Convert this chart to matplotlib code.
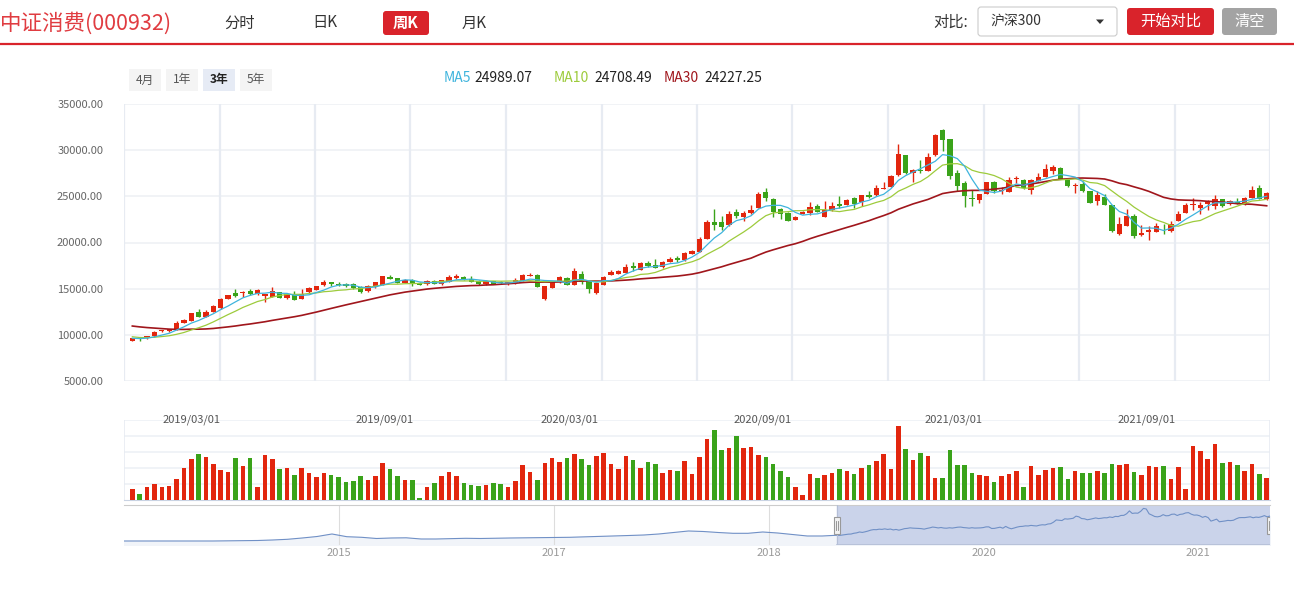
import numpy as np
import matplotlib
matplotlib.use('Agg')
import matplotlib.pyplot as plt
from matplotlib.patches import FancyBboxPatch, Rectangle, Polygon, Ellipse

plt.rcParams['font.family'] = ['Noto Sans CJK SC', 'DejaVu Sans']

# ---- weekly K-line data ----
opens = [9360, 9690, 9620, 9830, 10370, 10420, 10550, 11310, 11530, 12460,
         11960, 12500, 12860, 13910, 14520, 14480, 14740, 14380, 14230, 14130,
         14590, 13940, 14410, 13870, 14590, 14880, 15380, 15680, 15530, 15490,
         15490, 15170, 14700, 15210, 15390, 16250, 16140, 15640, 15930, 15640,
         15500, 15820, 15500, 15750, 16140, 16250, 16070, 15860, 15460, 15820,
         15680, 15460, 15570, 15860, 16400, 16500, 13870, 15100, 15680, 16140,
         15420, 16580, 15820, 14480, 15420, 16500, 16610, 16720, 17440, 17040,
         17730, 17550, 17330, 17880, 18340, 18060, 18780, 18990, 20400, 22200,
         22240, 21880, 23280, 22780, 23180, 23790, 25520, 24660, 23680, 23210,
         22460, 23100, 23210, 23940, 22780, 23500, 24150, 24080, 24800, 24400,
         25120, 25120, 25810, 26020, 27290, 29450, 27580, 27900, 27760, 29450,
         32230, 31180, 27580, 26420, 24870, 24580, 25300, 26600, 25590, 25480,
         26890, 26750, 25660, 26680, 27110, 27760, 28080, 26750, 26130, 26320,
         25560, 24510, 24940, 24040, 20900, 21810, 22820, 20800, 21190, 21160,
         21700, 21230, 22350, 23210, 24040, 23750, 24220, 23970, 24660, 24150,
         24400, 24220, 24870, 25950, 24660]
closes = [9650, 9520, 9870, 10300, 10520, 10630, 11270, 11600, 12320, 11960,
          12460, 13080, 13840, 14270, 14200, 14630, 14450, 14880, 14410, 14740,
          14020, 14410, 13800, 14380, 15060, 15280, 15710, 15460, 15380, 15240,
          15060, 14660, 15240, 15710, 16360, 16070, 15640, 15990, 15530, 15420,
          15780, 15530, 15890, 16250, 16360, 15930, 15750, 15460, 15820, 15530,
          15570, 15680, 15930, 16500, 16500, 15210, 15280, 15780, 16250, 15420,
          16900, 15680, 14950, 15570, 16290, 16790, 16940, 17330, 17260, 17730,
          17440, 17260, 17880, 18240, 18090, 18850, 19100, 20360, 22200, 21910,
          21700, 23140, 22890, 23180, 23570, 25300, 24770, 23320, 23140, 22350,
          22740, 23250, 23830, 23320, 23570, 24000, 23930, 24620, 24220, 25120,
          24940, 25880, 25950, 27250, 29630, 27540, 27830, 27720, 29240, 31650,
          31150, 27220, 26170, 25010, 24730, 25230, 26530, 25590, 25740, 26820,
          27000, 25850, 26750, 27040, 27940, 28190, 26930, 26130, 26240, 25590,
          24330, 25120, 24110, 21230, 21990, 22850, 20690, 21010, 21340, 21810,
          21630, 21950, 23140, 24040, 24150, 24110, 24440, 24760, 23970, 24510,
          24290, 24870, 25740, 24730, 25410]
highs = [9700, 9720, 9900, 10450, 10560, 10680, 11490, 11680, 12360, 12790,
         12650, 13190, 13980, 14310, 14950, 14770, 14990, 14990, 14450, 15170,
         14660, 14480, 14740, 14990, 15130, 15320, 15960, 15750, 15680, 15600,
         15600, 15240, 15350, 15750, 16400, 16500, 16180, 16070, 16000, 15710,
         15930, 15970, 15930, 16500, 16580, 16360, 16400, 15930, 15890, 15860,
         15860, 15750, 16140, 16540, 16680, 16580, 15320, 15820, 16400, 16250,
         17190, 16870, 15860, 15640, 16360, 17010, 17050, 17660, 17880, 17840,
         17980, 18160, 17950, 18380, 18520, 18960, 19170, 20580, 22420, 23610,
         22890, 23360, 23680, 23460, 24080, 25450, 25880, 24800, 23750, 23250,
         22820, 23430, 24440, 24150, 24470, 24370, 25090, 24690, 24980, 25160,
         25590, 26280, 26600, 27320, 30640, 29520, 28010, 28980, 29740, 31760,
         32340, 31250, 27830, 26640, 25700, 25300, 26600, 26640, 26030, 27110,
         27180, 26860, 26930, 27580, 28480, 28370, 28150, 26790, 26420, 26670,
         25590, 25590, 25300, 24080, 22780, 23680, 23070, 21880, 21840, 22130,
         21990, 22350, 23390, 24260, 24800, 24400, 24580, 25120, 24760, 24580,
         24870, 24940, 26130, 26280, 25450]
lows = [9330, 9360, 9600, 9800, 10340, 10270, 10500, 11270, 11500, 11930,
        11930, 12480, 12830, 13880, 14090, 14090, 14340, 14340, 13580, 14100,
        13990, 13900, 13780, 13830, 14560, 14850, 15340, 15280, 15280, 15170,
        15000, 14520, 14600, 15100, 15350, 16040, 15600, 15600, 15320, 15380,
        15390, 15500, 15420, 15710, 16100, 15890, 15710, 15420, 15420, 15500,
        15460, 15380, 15530, 15820, 16360, 15170, 13760, 15060, 15640, 15380,
        15380, 15460, 14480, 14440, 15380, 16470, 16580, 16690, 16940, 17010,
        17300, 17220, 17260, 17840, 17880, 18020, 18740, 18960, 20360, 21340,
        21340, 21840, 22600, 22310, 23140, 23750, 24510, 22780, 22560, 22310,
        22420, 23070, 22960, 23280, 22740, 23460, 23790, 24040, 23790, 23930,
        24870, 25090, 25770, 25990, 27250, 27460, 26570, 27540, 27720, 29400,
        29920, 26860, 25590, 23860, 23970, 24330, 25230, 25380, 25230, 25440,
        26390, 25770, 25230, 26640, 27070, 27470, 26860, 26030, 25410, 25520,
        24260, 24110, 24080, 21160, 20800, 21770, 20540, 20690, 20260, 21120,
        20870, 21160, 22310, 23180, 23500, 23140, 23570, 23680, 23860, 24040,
        24150, 24110, 24840, 24690, 24620]
# weekly volume, in units of the volume panel grid (5 = top line)
volume = [0.69, 0.36, 0.82, 1.01, 0.82, 0.88, 1.32, 2.02, 2.58, 2.90,
          2.71, 2.27, 1.89, 1.76, 2.65, 2.14, 2.65, 0.82, 2.84, 2.58,
          1.95, 2.02, 1.58, 2.02, 1.70, 1.45, 1.70, 1.58, 1.45, 1.13,
          1.20, 1.51, 1.26, 1.51, 2.33, 1.95, 1.51, 1.26, 1.26, 0.13,
          0.82, 1.07, 1.51, 1.76, 1.51, 1.07, 0.95, 0.88, 0.95, 1.07,
          1.01, 0.82, 1.20, 2.21, 1.76, 1.26, 2.33, 2.65, 2.40, 2.65,
          2.90, 2.58, 2.21, 2.77, 2.96, 2.27, 1.95, 2.77, 2.52, 2.02,
          2.40, 2.27, 1.70, 1.89, 1.83, 2.46, 1.64, 2.71,
          3.84, 4.35, 3.15, 3.28, 3.97, 3.28, 3.34, 2.84, 2.71, 2.27,
          1.83, 1.45, 0.82, 0.32, 1.64, 1.39, 1.58, 1.70, 1.95, 1.83,
          1.64, 2.02, 2.21, 2.46, 2.90, 1.95, 4.60, 3.21, 2.52, 2.96,
          2.77, 1.39, 1.39, 3.15, 2.21, 2.21, 1.70, 1.58, 1.51, 1.13,
          1.51, 1.64, 1.83, 0.82, 2.14, 1.58, 1.89, 2.02, 2.08, 1.32,
          1.83, 1.70, 1.70, 1.83, 1.70, 2.27, 2.21, 2.27, 1.76, 1.58,
          2.14, 2.08, 2.14, 1.32, 2.08, 0.69, 3.40, 3.09, 2.58, 3.47,
          2.33, 2.40, 2.21, 1.83, 2.27, 1.64, 1.39]
# closes of the 29 weeks before the window (estimated), used for the MAs
prior_closes = [12300, 12100, 11900, 12200, 12400, 12000, 11800, 11600, 11900, 11700,
                11500, 11400, 11600, 11300, 11100, 11400, 11200, 10900, 10300, 10100,
                10300, 10000, 9900, 9800, 9750, 9700, 9650, 9600, 9550]
# long history for the navigator (estimated), before the selected window
nav_early = [4930, 4930, 4930, 4930, 4900, 4900, 4930, 5090, 5170, 5340,
             5750, 6320, 7390, 8620, 10670, 8450, 7960, 6980, 7390, 7550,
             6570, 6570, 6810, 7140, 6980, 7220, 7390, 7550, 7630, 7800,
             7960, 8370, 8700, 9030, 9440, 9850, 10670, 11900, 13130, 12720,
             11900, 11240, 11240, 12310, 11490, 10260, 9030, 9030]

date_labels = ['2019/03/01', '2019/09/01', '2020/03/01', '2020/09/01', '2021/03/01', '2021/09/01']
date_pos = [8.0, 34.3, 59.3, 85.6, 111.5, 137.7]
nav_years = ['2015', '2017', '2018', '2020', '2021']

RED = '#e2260e'
GREEN = '#3aa31a'

W, H = 1294, 594
fig = plt.figure(figsize=(W / 100, H / 100), dpi=100)


def px_axes(x0, y0, x1, y1):
    return fig.add_axes([x0 / W, 1 - y1 / H, (x1 - x0) / W, (y1 - y0) / H])


# ---- header / page decorations in pixel coords ----
bg = fig.add_axes([0, 0, 1, 1])
bg.set_xlim(0, W)
bg.set_ylim(H, 0)
bg.axis('off')

bg.text(0, 23, '中证消费(000932)', fontsize=15.5, color='#e03c41', va='center', ha='left')
for lab, xc in [('分时', 240), ('日K', 325), ('月K', 474)]:
    bg.text(xc, 23, lab, fontsize=11, color='#333333', va='center', ha='center')
bg.add_patch(FancyBboxPatch((383, 11), 46, 24, boxstyle='round,pad=0,rounding_size=3',
                            fc='#d9232b', ec='none'))
bg.text(406, 23, '周K', fontsize=11, color='white', va='center', ha='center', weight='bold')

bg.text(968, 22, '对比:', fontsize=11, color='#333333', va='center', ha='right')
bg.add_patch(FancyBboxPatch((978, 7), 139, 29, boxstyle='round,pad=0,rounding_size=3',
                            fc='white', ec='#cccccc', lw=0.8))
bg.text(990, 22, '沪深300', fontsize=10, color='#333333', va='center', ha='left')
bg.add_patch(Polygon([[1096, 19.5], [1104, 19.5], [1100, 24]], closed=True, fc='#333333', ec='none'))
bg.add_patch(FancyBboxPatch((1127, 8), 87, 27, boxstyle='round,pad=0,rounding_size=3',
                            fc='#d9232b', ec='none'))
bg.text(1170.5, 21.5, '开始对比', fontsize=11, color='white', va='center', ha='center')
bg.add_patch(FancyBboxPatch((1222, 8), 55, 27, boxstyle='round,pad=0,rounding_size=3',
                            fc='#a3a3a3', ec='none'))
bg.text(1249.5, 21.5, '清空', fontsize=11, color='white', va='center', ha='center')
bg.plot([0, W], [44, 44], color='#d9232b', lw=1.6, solid_capstyle='butt')

# range buttons
for lab, x0 in [('4月', 129), ('1年', 166), ('3年', 203), ('5年', 240)]:
    sel = lab == '3年'
    bg.add_patch(Rectangle((x0, 69), 32, 22, fc='#e6ebf5' if sel else '#f4f4f4', ec='none'))
    bg.text(x0 + 16, 80, lab, fontsize=8.5, ha='center', va='center',
            color='#222222' if sel else '#555555', weight='bold' if sel else 'normal')

# MA legend
for name, val, col, x0 in [('MA5', '24989.07', '#3fb4dd', 444),
                           ('MA10', '24708.49', '#9dcb3c', 554),
                           ('MA30', '24227.25', '#a0161c', 664)]:
    bg.text(x0, 78, name, fontsize=10, color=col, va='center', ha='left')
    bg.text(x0 + (30 if name == 'MA5' else 40), 78, val, fontsize=10, color='#222222',
            va='center', ha='left')

# watermark
wm = '#f6d6d9'
for cx, cy, ang in [(1096, 118, 20), (1104, 114, 5), (1113, 116, -20)]:
    bg.add_patch(Ellipse((cx, cy), 5, 11, angle=ang, fc=wm, ec='none'))
bg.add_patch(Ellipse((1104, 130), 22, 12, angle=-15, fc=wm, ec='none'))
bg.text(1122, 127, '点掌财经', fontsize=13.5, color=wm, weight='bold', va='center', ha='left')
bg.text(1203, 118, '®', fontsize=6, color=wm, va='center', ha='left')

# ---- main candlestick panel ----
n = len(closes)
x = np.arange(n)
o = np.array(opens, float)
c = np.array(closes, float)
hi = np.array(highs, float)
lo = np.array(lows, float)
up = c >= o
cols = np.where(up, RED, GREEN)

allc = np.array(prior_closes + closes, float)


def ma(k):
    s = np.convolve(allc, np.ones(k) / k, mode='valid')
    return s[-n:]


ax = px_axes(124, 104, 1270, 381)
xl = (-1.13, n - 0.55)
ax.set_xlim(*xl)
ax.set_ylim(5000, 35000)
for v in range(5000, 35001, 5000):
    ax.axhline(v, color='#eff1f5', lw=1.2, zorder=0)
for xv in np.linspace(xl[0], xl[1], 13):
    ax.axvline(xv, color='#e7ebf2', lw=1.6, zorder=0)

ax.vlines(x, lo, hi, colors=cols, lw=1, zorder=2)
body = np.maximum(np.abs(c - o), 70)
ax.bar(x, body, 0.72, np.minimum(o, c), color=cols, zorder=3)

ax.plot(x, ma(30), color='#a0161c', lw=1.2, zorder=4)
ax.plot(x, ma(10), color='#9dcb3c', lw=0.9, zorder=5)
ax.plot(x, ma(5), color='#3fb4dd', lw=0.9, zorder=6)

ax.set_xticks([])
ax.set_yticks(range(5000, 35001, 5000))
ax.set_yticklabels([f'{v:.2f}' for v in range(5000, 35001, 5000)])
ax.tick_params(axis='y', length=0, pad=15, labelsize=8, labelcolor='#666666')
for s in ax.spines.values():
    s.set_visible(False)

# ---- volume panel ----
axv = px_axes(124, 420, 1270, 500)
axv.set_xlim(*xl)
axv.set_ylim(0, 5)
for v in [1, 2, 3, 4, 5]:
    axv.axhline(v, color='#eef1f6', lw=1.2, zorder=0)
axv.axvline(xl[0], color='#e7ebf2', lw=1.2)
axv.axvline(xl[1], color='#e7ebf2', lw=1.2)
axv.bar(x, volume, 0.62, color=cols, zorder=3)
for lab, p in zip(date_labels, date_pos):
    axv.text(p, 5, lab, fontsize=8, color='#555555', ha='center', va='center', clip_on=False,
             zorder=5)
axv.set_xticks([])
axv.set_yticks([])
for k, s in axv.spines.items():
    s.set_visible(k == 'bottom')
axv.spines['bottom'].set_color('#c9d3e3')

# ---- navigator ----
axn = px_axes(124, 505, 1270, 545)
f0 = (837 - 124) / (1270 - 124)
nx = np.concatenate([np.linspace(0, f0, len(nav_early), endpoint=False), np.linspace(f0, 1, n)])
ny = np.concatenate([nav_early, closes])
axn.set_xlim(0, 1)
axn.set_ylim(1646, 34446)
ticks = [3 / 16 * (i + 1) for i in range(len(nav_years))]
for t in ticks:
    axn.axvline(t, color='#dddddd', lw=0.8, zorder=1)
axn.fill_between(nx, ny, 1646, color='#f1f4f9', zorder=0)
axn.axvspan(f0, 1, color='#cad3ea', zorder=2)
axn.plot(nx, ny, color='#7090c6', lw=0.8, zorder=3)
axn.plot([f0, f0], [1646, 34446], color='#b5bfd6', lw=0.8, zorder=3)
axn.plot([f0, 1], [1646, 1646], color='#b5bfd6', lw=1.2, zorder=3)
for hx in [f0, 1.0]:
    axn.add_patch(Rectangle((hx - 0.0028, 0.28), 0.0056, 0.42, transform=axn.get_xaxis_transform(),
                            fc='#f2f2f2', ec='#999999', lw=0.8, zorder=6))
    axn.plot([hx - 0.0008, hx - 0.0008], [0.38, 0.6], color='#888888', lw=0.6,
             transform=axn.get_xaxis_transform(), zorder=7)
    axn.plot([hx + 0.0008, hx + 0.0008], [0.38, 0.6], color='#888888', lw=0.6,
             transform=axn.get_xaxis_transform(), zorder=7)
axn.set_xticks(ticks)
axn.set_xticklabels(nav_years)
axn.tick_params(axis='x', length=0, pad=2, labelsize=8, labelcolor='#999999')
axn.set_yticks([])
for k, s in axn.spines.items():
    s.set_visible(k == 'top')
axn.spines['top'].set_color('#cccccc')

fig.savefig('out.png', dpi=100)
